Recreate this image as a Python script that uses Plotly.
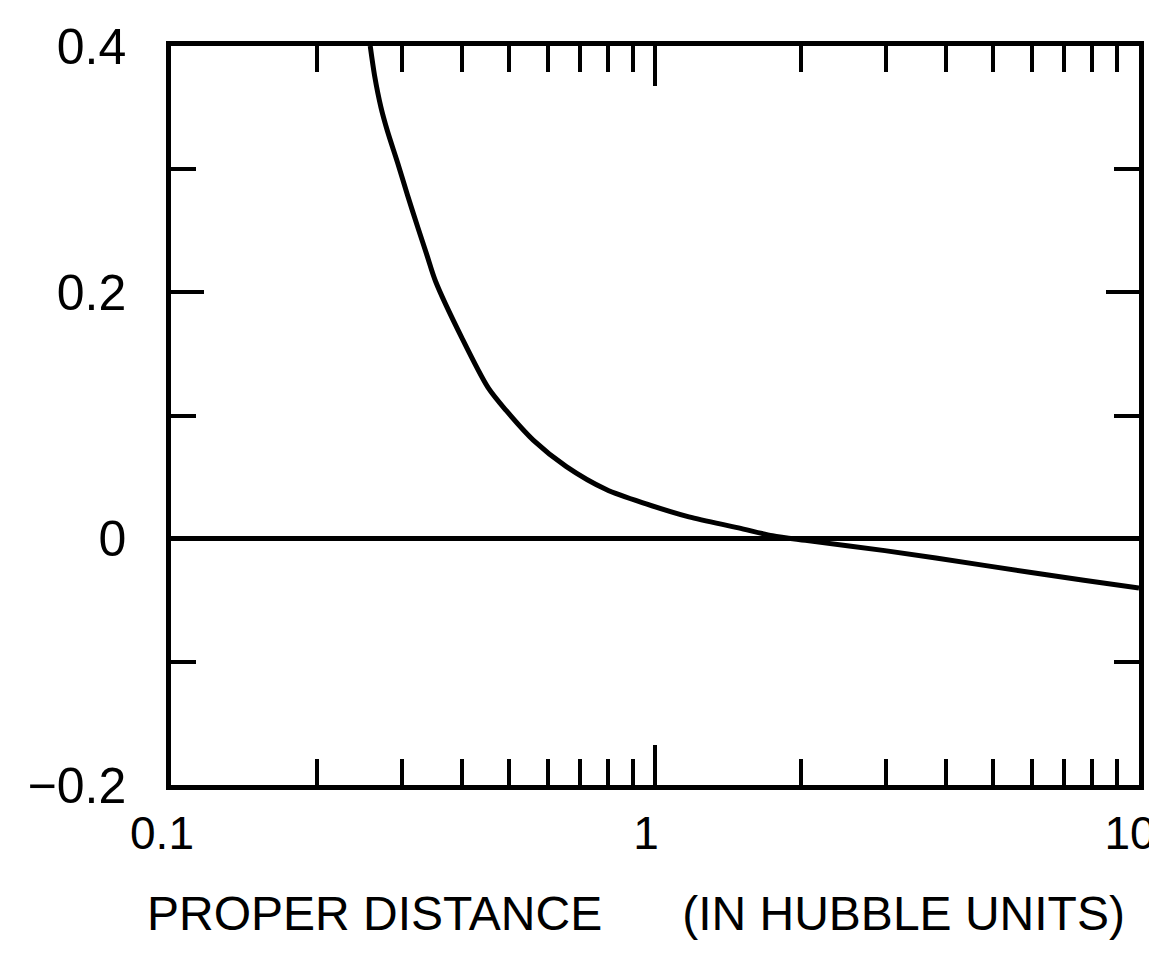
import plotly.graph_objects as go

# Curve (proper distance in Hubble units vs value)
distance = [0.258, 0.2634, 0.2716, 0.280, 0.294, 0.308, 0.324, 0.338, 0.352, 0.399,
            0.452, 0.493, 0.561, 0.656, 0.793, 0.959, 1.175, 1.488, 1.748, 2.045,
            2.985, 4.79, 7.69, 10.0]
value = [0.400, 0.376, 0.350, 0.331, 0.305, 0.279, 0.252, 0.230, 0.209, 0.163,
         0.1226, 0.1039, 0.0798, 0.0585, 0.0399, 0.0282, 0.0177, 0.0088, 0.0024, -0.0014,
         -0.0097, -0.0217, -0.0338, -0.040]

x_major_vals = [0.1, 1, 10]
x_major_text = ["0.1", "1", "10"]
x_minor_vals = [0.2, 0.3, 0.4, 0.5, 0.6, 0.7, 0.8, 0.9, 2, 3, 4, 5, 6, 7, 8, 9]
y_major_vals = [-0.2, 0, 0.2, 0.4]
y_major_text = ["\u22120.2", "0", "0.2", "0.4"]
y_minor_vals = [-0.1, 0.1, 0.3]

x_title = "PROPER DISTANCE" + "\u00a0" * 6 + "(IN HUBBLE UNITS)"

L, R = 163, 26
plot_w = 1157 - L - R

fig = go.Figure()
fig.add_trace(go.Scatter(
    x=distance, y=value, mode="lines",
    line=dict(color="black", width=5, shape="spline", smoothing=0.8),
    showlegend=False, hoverinfo="skip",
))

fig.update_layout(
    width=1157, height=959,
    margin=dict(l=L, r=R, t=38, b=182),
    paper_bgcolor="white", plot_bgcolor="white",
    showlegend=False,
    annotations=[dict(
        text=x_title, xref="paper", yref="paper",
        x=(628 - L) / plot_w, y=-(905 - 777) / 739,
        xanchor="center", yanchor="middle", showarrow=False,
        font=dict(family="Liberation Sans, Arial", size=48, color="black"),
    )],
)

fig.update_xaxes(
    type="log", range=[-1, 1], automargin=False,
    showgrid=False, zeroline=False,
    showline=True, linecolor="black", linewidth=4.5, mirror="allticks",
    ticks="inside", ticklen=40, tickwidth=4, tickcolor="black",
    tickmode="array", tickvals=x_major_vals, ticktext=x_major_text,
    tickfont=dict(family="Liberation Sans, Arial", size=46, color="black"),
    ticklabelstandoff=4, ticklabelshift=-9, ticklabeloverflow="allow",
    minor=dict(ticks="inside", ticklen=26, tickwidth=4, tickcolor="black",
               tickmode="array", tickvals=x_minor_vals, showgrid=False),
)

fig.update_yaxes(
    range=[-0.2, 0.4], automargin=False,
    showgrid=False,
    zeroline=True, zerolinecolor="black", zerolinewidth=4.5,
    showline=True, linecolor="black", linewidth=4.5, mirror="allticks",
    ticks="inside", ticklen=33, tickwidth=4, tickcolor="black",
    tickmode="array", tickvals=y_major_vals, ticktext=y_major_text,
    tickfont=dict(family="Liberation Sans, Arial", size=50, color="black"),
    ticklabelstandoff=30,
    minor=dict(ticks="inside", ticklen=25, tickwidth=4, tickcolor="black",
               tickmode="array", tickvals=y_minor_vals, showgrid=False),
)

fig.write_html("out.html")
